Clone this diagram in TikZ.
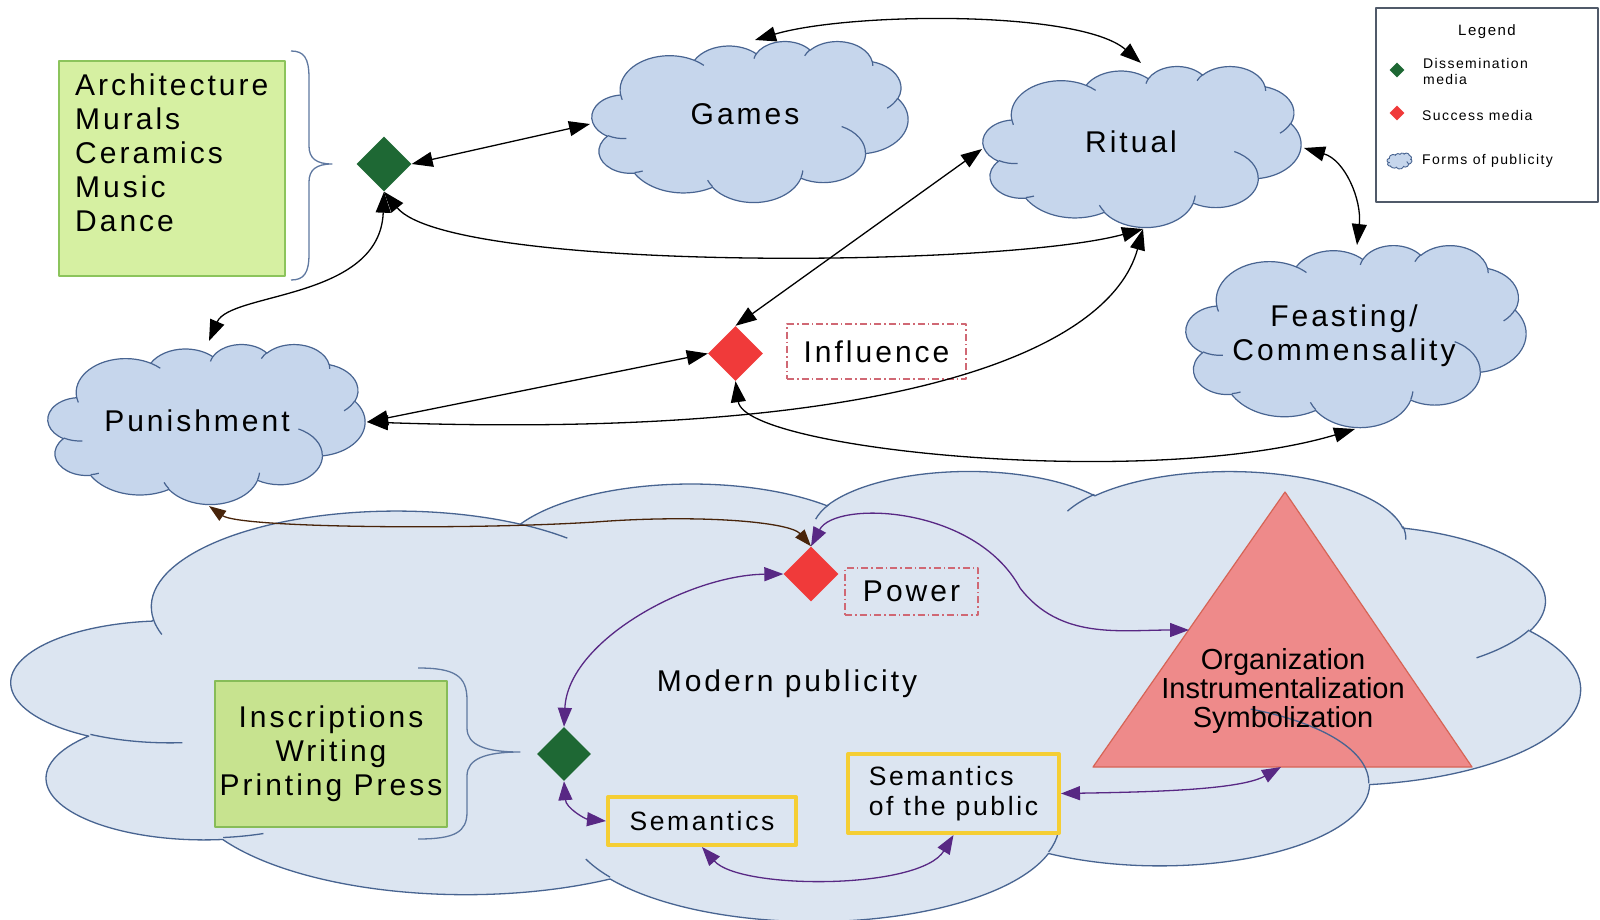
\documentclass[tikz,border=0pt]{standalone}
\usepackage{fontspec}
\setmainfont{Liberation Sans}
\newfontfamily\lsp{Liberation Sans}[LetterSpace=10]
\usetikzlibrary{shapes.geometric,arrows.meta}
\definecolor{cfill}{RGB}{198,214,236}
\definecolor{bfill}{RGB}{220,229,241}
\definecolor{cline}{RGB}{72,100,145}
\definecolor{gtop}{RGB}{214,240,162}
\definecolor{gtopb}{RGB}{140,196,92}
\definecolor{gbot}{RGB}{199,227,143}
\definecolor{gbotb}{RGB}{135,188,88}
\definecolor{dgreen}{RGB}{30,104,52}
\definecolor{redd}{RGB}{240,58,58}
\definecolor{trifill}{RGB}{238,138,138}
\definecolor{triline}{RGB}{214,100,86}
\definecolor{dashc}{RGB}{208,104,116}
\definecolor{yel}{RGB}{245,206,52}
\definecolor{purp}{RGB}{88,40,132}
\definecolor{brwn}{RGB}{72,36,10}
\definecolor{braceC}{RGB}{95,120,160}
\definecolor{legC}{RGB}{80,90,105}

\def\carc#1#2#3#4{\pgfextra{\pgfmathsetmacro\cldA{atan2((#1)*sin(#3),(#2)*cos(#3))}\pgfmathsetmacro\cldB{atan2((#1)*sin((#3)+(#4)),(#2)*cos((#3)+(#4)))}\pgfmathsetmacro\cldD{mod(\cldB-(\cldA)+720,360)}\global\let\cldA\cldA\global\let\cldD\cldD} arc[start angle=\cldA, delta angle=\cldD, x radius=#1, y radius=#2]}

\def\cloudbody{(39.00,143.70)
 \carc{67.53}{91.90}{-190.4875}{123.7805}
 \carc{53.33}{72.67}{-144.1024}{89.9452}
 \carc{43.65}{59.45}{-145.8079}{99.7230}
 \carc{48.57}{65.95}{-130.9861}{117.2417}
 \carc{53.33}{72.73}{-78.7089}{109.0269}
 \carc{67.75}{92.20}{-46.2673}{130.2690}
 \carc{57.85}{78.67}{0.6250}{114.0333}
 \carc{67.52}{92.15}{22.4516}{115.1726}
 \carc{77.20}{105.43}{66.2426}{75.7110}
 \carc{43.60}{59.18}{-274.9421}{146.7356}
 \carc{43.45}{59.45}{-246.8285}{152.5189}
 -- cycle}

\def\cloudtails{(46.93,261.77) \carc{43.45}{59.45}{86.7420}{26.4295}
 (69.28,348.99) \carc{43.60}{59.18}{73.6105}{11.4475}
 (164.78,390.90) \carc{67.52}{92.15}{137.6242}{14.0811}
 (288.27,347.51) \carc{67.52}{92.15}{6.4533}{15.9984}
 (341.29,229.54) \carc{57.85}{78.67}{-70.2924}{70.9174}
 (417.98,153.54) \carc{53.33}{72.73}{30.3180}{27.7515}
 (383.24,54.26) \carc{48.57}{65.95}{-13.7443}{14.8589}
 (290.78,39.52) \carc{48.57}{65.95}{-149.1815}{18.1954}
 (221.41,47.20) \carc{43.65}{59.45}{-163.4943}{17.6864}
 (140.00,51.92) \carc{67.53}{91.90}{-66.7070}{12.3194}
 (41.27,157.89) \carc{67.53}{91.90}{157.6544}{11.8582}}

\newcommand\cloudat[6]{\begin{scope}[shift={(#1,#2)},xscale=#3/432,yscale=#4/432]
 \filldraw[fill=#5,draw=cline,line width=#6]\cloudbody;
 \draw[cline,line width=#6]\cloudtails;
\end{scope}}

\tikzset{
 lbl/.style={font=\lsp\fontsize{30}{34}\selectfont, align=center, inner sep=0pt},
 dia/.style={diamond, aspect=1, minimum width=55pt, minimum height=55pt, inner sep=0pt, draw=none},
 dashbox/.style={draw=dashc, line width=1.3pt, dash pattern=on 7pt off 3pt on 1.5pt off 3pt, inner sep=0pt},
 yelbox/.style={draw=yel, line width=4pt, inner sep=0pt, font=\lsp\fontsize{26.5}{30}\selectfont},
 conb/.style={draw=black, line width=1.3pt, {Triangle[length=21pt,width=15pt]}-{Triangle[length=21pt,width=15pt]}},
 conp/.style={draw=purp, line width=1.3pt, {Triangle[length=19pt,width=14pt]}-{Triangle[length=19pt,width=14pt]}},
 conr/.style={draw=brwn, line width=1.3pt, {Triangle[length=17pt,width=12pt]}-{Triangle[length=17pt,width=12pt]}},
 bracel/.style={draw=braceC, line width=1.3pt},
 legtxt/.style={font=\lsp\fontsize{14}{16}\selectfont, align=left, inner sep=0pt, anchor=west}
}

\begin{document}
\begin{tikzpicture}[x=1pt,y=-1pt,line join=round]
\useasboundingbox (0,0) rectangle (1600,920);
\fill[white] (0,0) rectangle (1600,920);

% big cloud
\begin{scope}[shift={(12,470)},xscale=1568/432,yscale=450/432]
 \filldraw[fill=bfill,draw=cline,line width=1.3pt]\cloudbody;
\end{scope}

% triangle
\coordinate (triA) at (1285,492);
\coordinate (triL) at (1093,767);
\coordinate (triR) at (1472,767);
\filldraw[fill=trifill,draw=triline,line width=1.2pt] (triA) -- (triL) -- (triR) -- cycle;
\begin{scope}[shift={(12,470)},xscale=1568/432,yscale=450/432]
 \draw[cline,line width=1.3pt]\cloudtails;
\end{scope}
\node[font=\fontsize{29}{29}\selectfont, align=center, inner sep=0pt] (tritxt) at (1283,691) {Organization\\Instrumentalization\\Symbolization};

% small clouds
\cloudat{592}{41}{316}{161}{cfill}{1.2pt}
\cloudat{983}{66}{318}{161}{cfill}{1.2pt}
\cloudat{1186}{245}{340}{182}{cfill}{1.2pt}
\cloudat{48}{344}{317}{160}{cfill}{1.2pt}

\node[lbl] (games) at (745,114) {Games};
\node[lbl] (ritual) at (1131,142) {Ritual};
\node[lbl] (feast) at (1344,336) {Feasting/\\Commensality};
\node[lbl] (punish) at (197,421) {Punishment};
\node[lbl] (modern) at (787,684) {Modern publicity};

% green boxes and braces
\node[draw=gtopb, fill=gtop, line width=1.3pt, minimum width=226pt, minimum height=215pt, inner sep=0pt] (archbox) at (172,168.5) {};
\node[lbl, align=left, anchor=west] (archtxt) at (75,153) {Architecture\\Murals\\Ceramics\\Music\\Dance};
\draw[bracel] (291,51) .. controls (304,51) and (309,58) .. (309,78) -- (309,146) .. controls (309,158) and (316,164) .. (332,164) .. controls (316,164) and (309,170) .. (309,182) -- (309,254) .. controls (309,273) and (304,280) .. (291,280);

\node[draw=gbotb, fill=gbot, line width=1.3pt, minimum width=232pt, minimum height=146pt, inner sep=0pt, lbl, align=center] (insbox) at (331,754) {Inscriptions\\Writing\\Printing Press};
\draw[bracel] (418,668) .. controls (455,668) and (467,676) .. (467,700) -- (467,728) .. controls (467,745) and (485,752) .. (520,752) .. controls (485,752) and (467,759) .. (467,776) -- (467,812) .. controls (467,832) and (455,839) .. (418,839);

% diamonds
\node[dia, fill=dgreen] (gd1) at (384,164) {};
\node[dia, fill=redd] (infl) at (735.5,353.5) {};
\node[dia, fill=redd] (pow) at (811,574) {};
\node[dia, fill=dgreen, minimum width=54pt, minimum height=54pt] (gd2) at (564,754) {};

% labelled boxes
\node[dashbox, minimum width=179pt, minimum height=55pt, lbl] (inflbox) at (876.5,351.5) {Influence};
\node[dashbox, minimum width=133pt, minimum height=47pt, lbl] (powbox) at (911.5,591.5) {Power};
\node[yelbox, minimum width=188pt, minimum height=48pt] (sem) at (702,821) {Semantics};
\node[yelbox, minimum width=211pt, minimum height=79pt, align=left] (sotp) at (953.5,793.5) {Semantics\\of the public};

% connection points
\coordinate (games-w) at (590,124);
\coordinate (games-n) at (755,40);
\coordinate (ritual-n) at (1141,63);
\coordinate (ritual-w) at (982,149);
\coordinate (ritual-s) at (1143,229);
\coordinate (ritual-e) at (1304,148);
\coordinate (feast-n) at (1357,245);
\coordinate (feast-s) at (1355,429);
\coordinate (punish-n) at (209,341);
\coordinate (punish-e) at (367,422);
\coordinate (punish-s) at (209,506);
\coordinate (tri-w) at (1189,630);
\coordinate (tri-s) at (1281,767);
\coordinate (bwp) at (595,522);
\coordinate (pwp) at (1020,588);

% black connectors
\draw[conb] (games-n) .. controls (850,12) and (1080,10) .. (ritual-n);
\draw[conb] (gd1.east) -- (games-w);
\draw[conb] (gd1.south) .. controls (450,272) and (1000,268) .. (ritual-s);
\draw[conb] (gd1.south) .. controls (380,300) and (230,292) .. (punish-n);
\draw[conb] (infl.north) -- (ritual-w);
\draw[conb] (infl.west) -- (punish-e);
\draw[conb] (ritual-s) .. controls (1110,350) and (900,440) .. (punish-e);
\draw[conb] (infl.south) .. controls (745,450) and (1150,490) .. (feast-s);
\draw[conb] (ritual-e) .. controls (1345,160) and (1362,200) .. (feast-n);

% brown connector
\draw[conr] (punish-s) .. controls (240,528) and (470,530) .. (bwp) .. controls (700,514) and (790,522) .. (pow.north);

% purple connectors
\draw[conp] (pow.north) .. controls (835,500) and (975,505) .. (pwp) .. controls (1060,640) and (1120,630) .. (tri-w);
\draw[conp] (pow.west) .. controls (690,575) and (568,640) .. (gd2.north);
\draw[conp] (gd2.south) .. controls (566,808) and (585,819) .. (sem.west);
\draw[conp] (sem.south) .. controls (740,890) and (920,890) .. (sotp.south);
\draw[conp] (sotp.east) .. controls (1150,792) and (1240,790) .. (tri-s);

% legend
\node[draw=legC, line width=1.2pt, minimum width=222pt, minimum height=194pt, inner sep=0pt] (legend) at (1487,105) {};
\node[font=\lsp\fontsize{15}{17}\selectfont, inner sep=0pt] (legtitle) at (1487,32) {Legend};
\node[dia, fill=dgreen, minimum width=15pt, minimum height=15pt] (lg1) at (1397,70) {};
\node[legtxt] (lg1t) at (1423,71) {Dissemination\\media};
\node[dia, fill=redd, minimum width=15pt, minimum height=15pt] (lg2) at (1397,113) {};
\node[legtxt] (lg2t) at (1422,115) {Success media};
\cloudat{1387}{153}{25}{16}{cfill}{0.9pt}
\node[legtxt] (lg3t) at (1422,161) {Forms of publicity};
\end{tikzpicture}
\end{document}
